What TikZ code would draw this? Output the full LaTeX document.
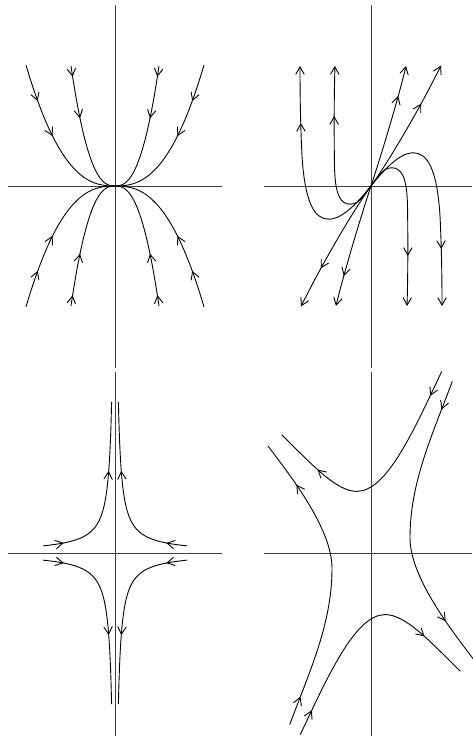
\documentclass[tikz,border=0pt]{standalone}
\usetikzlibrary{arrows.meta,decorations.markings}
\begin{document}
\begin{tikzpicture}[x=1pt,y=1pt,
  >={Straight Barb[length=7.5pt,width=8.5pt]},
  curve/.style={line width=0.9pt,line join=round},
  axis/.style={line width=0.9pt,draw=black!75},
  onearr/.style={postaction={decorate,decoration={markings,
     mark=at position #1 with {\arrow{>}}}}},
  twoarr/.style 2 args={postaction={decorate,decoration={markings,
     mark=at position #1 with {\arrow{>}},
     mark=at position #2 with {\arrow{>}}}}}]
\path[use as bounding box] (0,0) rectangle (472,738);

% ---------- panel 1: stable node ----------
\begin{scope}[shift={(115,552)}]
  \draw[axis] (0,181) -- (0,-182);
  \draw[axis] (-107,0) -- (107,0);
  \foreach \sx/\sy in {1/1,-1/1,1/-1,-1/-1}{
    \begin{scope}[xscale=\sx,yscale=\sy]
      \draw[curve,twoarr={38pt}{76pt}] plot[domain=1:0.04,samples=70] ({-89*\x},{121*pow(\x,2.5)}) -- (0,0);
      \draw[curve,twoarr={11pt}{53pt}] plot[domain=1:0.04,samples=70] ({-44*\x},{120*pow(\x,2.5)}) -- (0,0);
    \end{scope}}
\end{scope}

% ---------- panel 2: unstable node ----------
\begin{scope}[shift={(371,552)}]
  \draw[axis] (0,181) -- (0,-182);
  \draw[axis] (-107,0) -- (101,0);
  \foreach \r in {0,180}{
    \begin{scope}[rotate=\r]
      \draw[curve,->,onearr={-31pt}] (0,0) .. controls (10,30) and (28,90) .. (35,120);
      \draw[curve,->,onearr={-43pt}] (0,0) .. controls (20,28) and (50,80) .. (70,120.5);
      \draw[curve,->,onearr={-50pt}] (0,0) .. controls (9,12) and (13,18.2) .. (20.7,18.2)
          .. controls (30,18.2) and (36,10) .. (36.5,-20)
          .. controls (37,-50) and (37,-90) .. (36,-120);
      \draw[curve,->,onearr={-57pt}] (0,0) .. controls (12,15) and (28,33.2) .. (42.3,33.2)
          .. controls (56,33.2) and (66,18) .. (69,-30)
          .. controls (70.5,-60) and (71,-90) .. (71,-120);
    \end{scope}}
\end{scope}

% ---------- panel 3: saddle ----------
\begin{scope}[shift={(115,185)}]
  \draw[axis] (0,181) -- (0,-183);
  \draw[axis] (-107,0) -- (107,0);
  \foreach \sx/\sy in {1/1,-1/1,1/-1,-1/-1}{
    \begin{scope}[xscale=\sx,yscale=\sy]
      \draw[curve,twoarr={21pt}{-69pt}] plot[domain=0:3.05,samples=100] ({-72*exp(-\x)},{7.153*exp(\x)});
    \end{scope}}
\end{scope}

% ---------- panel 4: skew saddle ----------
\begin{scope}[shift={(371,185)}]
  \draw[axis] (0,181) -- (0,-183);
  \draw[axis] (-107,0) -- (101,0);
  \foreach \r in {0,180}{
    \begin{scope}[rotate=\r]
      \draw[curve,twoarr={27pt}{-50pt}] (70.7,181.6) .. controls (40.9,118.2) and (15,61.6) .. (-14.3,61.6)
          .. controls (-35,61.6) and (-60,89.5) .. (-89.3,118.3);
      \draw[curve,twoarr={30pt}{-48pt}] (81.3,171.6) .. controls (60.2,115.4) and (39,70) .. (39,15)
          .. controls (39,-25) and (82,-79) .. (103,-107);
    \end{scope}}
\end{scope}
\end{tikzpicture}
\end{document}
